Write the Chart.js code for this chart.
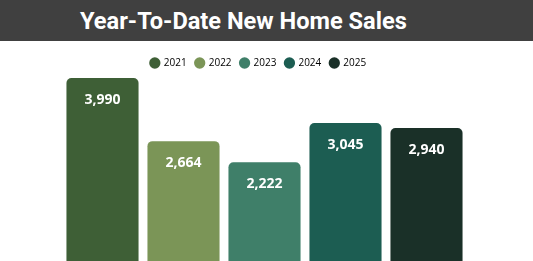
<!DOCTYPE html>
<html>
<head>
<meta charset="utf-8">
<script src="https://cdn.jsdelivr.net/npm/chart.js@4/dist/chart.umd.min.js"></script>
<style>
  html, body { margin: 0; padding: 0; width: 533px; height: 261px; overflow: hidden; background: #ffffff; }
  #title { height: 41px; background: #404040; color: #ffffff; font-family: Roboto, sans-serif; font-weight: 700; font-size: 23.6px; line-height: 42px; padding-left: 80px; white-space: nowrap; }
  #wrap { position: relative; width: 533px; height: 227px; }
</style>
</head>
<body>
<div id="title">Year-To-Date New Home Sales</div>
<div id="wrap"><canvas id="c"></canvas></div>
<script>
const categories = ["2021", "2022", "2023", "2024", "2025"];
const sales = [3990, 2664, 2222, 3045, 2940];
const barColors = ["#3e5f36", "#7b9557", "#3f7f69", "#1c5d52", "#1a3028"];

const valueLabels = {
  id: 'valueLabels',
  beforeDraw(chart) {
    if (chart.legend && !chart.legend._shifted) {
      chart.legend.left -= 6;
      chart.legend.right -= 6;
      chart.legend._shifted = true;
    }
  },
  afterDatasetsDraw(chart) {
    const ctx = chart.ctx;
    const meta = chart.getDatasetMeta(0);
    ctx.save();
    ctx.fillStyle = '#ffffff';
    ctx.font = 'bold 14px "Open Sans", sans-serif';
    ctx.textAlign = 'center';
    ctx.textBaseline = 'middle';
    meta.data.forEach((bar, i) => {
      ctx.fillText(sales[i].toLocaleString('en-US'), bar.x, bar.y + 22);
    });
    ctx.restore();
  }
};

new Chart(document.getElementById('c'), {
  type: 'bar',
  data: {
    labels: categories,
    datasets: [{
      data: sales,
      backgroundColor: barColors,
      borderRadius: 5,
      borderSkipped: 'bottom',
      categoryPercentage: 1,
      barPercentage: 0.89
    }]
  },
  options: {
    responsive: true,
    maintainAspectRatio: false,
    animation: false,
    layout: { padding: { left: 62, right: 66, top: 8, bottom: 0 } },
    plugins: {
      legend: {
        display: true,
        position: 'top',
        labels: {
          usePointStyle: true,
          pointStyle: 'circle',
          boxWidth: 8,
          boxHeight: 8,
          padding: 9,
          color: '#333333',
          font: { family: '"Open Sans", sans-serif', size: 10 },
          generateLabels(chart) {
            return categories.map((c, i) => ({
              text: c,
              fillStyle: barColors[i],
              strokeStyle: barColors[i],
              lineWidth: 0,
              pointStyle: 'circle',
              hidden: false,
              index: i
            }));
          }
        },
        onClick: null
      },
      tooltip: { enabled: false }
    },
    scales: {
      x: { display: false },
      y: { display: false, min: 0, max: 3990 }
    }
  },
  plugins: [valueLabels]
});
</script>
</body>
</html>
